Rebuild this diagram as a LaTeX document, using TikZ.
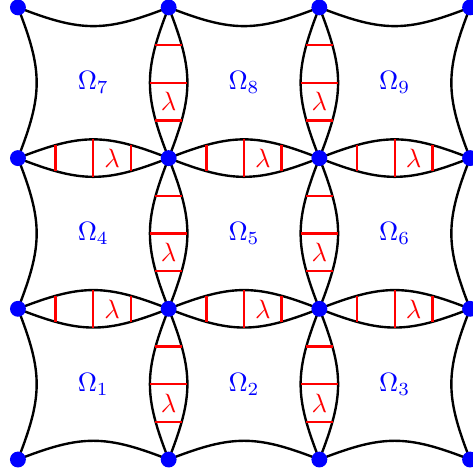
\documentclass[tikz,border=0pt]{standalone}
\usetikzlibrary{calc}
\begin{document}
\begin{tikzpicture}[
  x=2cm, y=2cm,
  vert/.style={circle, fill=blue, minimum size=6pt, inner sep=0pt},
  edge/.style={draw, line width=0.9pt},
  rung/.style={draw, red, line width=0.9pt},
  bl/.style={bend left=21.4, looseness=1.165},
  br/.style={bend right=21.4, looseness=1.165},
  dom/.style={text=blue},
  gap/.style={text=red, inner sep=1pt}]

  \useasboundingbox (-0.119,-0.096) rectangle (3.013,3.049);

  % grid points
  \foreach \i in {0,...,3}
    \foreach \j in {0,...,3}
      \coordinate (p\i\j) at (\i,\j);

  % outer sides, bent inwards
  \foreach \i [count=\k] in {0,1,2} {
    \draw[edge] (p\i0) to[bl] (p\k0);
    \draw[edge] (p\i3) to[br] (p\k3);
    \draw[edge] (p0\i) to[br] (p0\k);
    \draw[edge] (p3\i) to[bl] (p3\k);
  }

  % inner sides: lens of width lambda, three rungs each
  \foreach \j in {1,2}
    \foreach \i [count=\k] in {0,1,2} {
      % horizontal lens
      \draw[edge] (p\i\j) to[bl] (p\k\j) to[bl] (p\i\j);
      \foreach \t/\r in {.25/.088, .5/.125, .75/.088}
        \draw[rung] ($(p\i\j)!\t!(p\k\j)+(0,\r)$) -- ($(p\i\j)!\t!(p\k\j)-(0,\r)$);
      \node[gap] (lh\i\j) at ($(p\i\j)!.625!(p\k\j)$) {$\lambda$};
      % vertical lens
      \draw[edge] (p\j\i) to[bl] (p\j\k) to[bl] (p\j\i);
      \foreach \t/\r in {.25/.088, .5/.125, .75/.088}
        \draw[rung] ($(p\j\i)!\t!(p\j\k)+(\r,0)$) -- ($(p\j\i)!\t!(p\j\k)-(\r,0)$);
      \node[gap] (lv\j\i) at ($(p\j\k)!.625!(p\j\i)$) {$\lambda$};
    }

  % subdomains
  \foreach \j in {0,1,2}
    \foreach \i in {0,1,2} {
      \pgfmathtruncatemacro\n{3*\j+\i+1}
      \node[dom] (om\n) at (\i+.5,\j+.5) {$\Omega_{\n}$};
    }

  % vertices, on top of the sides
  \foreach \i in {0,...,3}
    \foreach \j in {0,...,3}
      \node[vert] (v\i\j) at (p\i\j) {};
\end{tikzpicture}
\end{document}
